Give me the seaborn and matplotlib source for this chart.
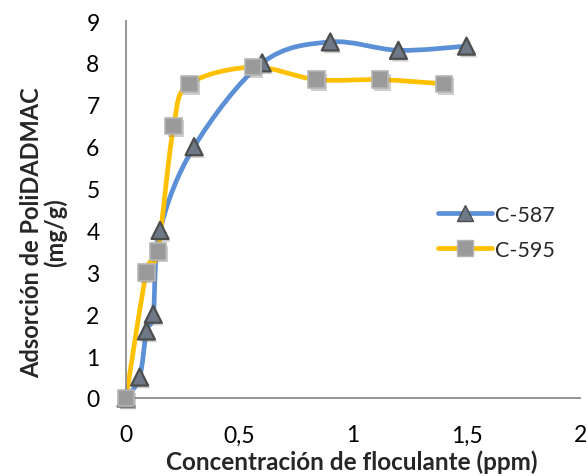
import matplotlib
matplotlib.use("Agg")
import matplotlib.pyplot as plt
import matplotlib.patheffects as pe
from matplotlib.path import Path
from matplotlib.patches import PathPatch
from matplotlib.lines import Line2D
import numpy as np
import pandas as pd
import seaborn as sns

# data
conc_587 = [0, 0.06, 0.09, 0.12, 0.15, 0.3, 0.6, 0.9, 1.2, 1.5]
ads_587 = [0, 0.5, 1.6, 2.0, 4.0, 6.0, 8.0, 8.5, 8.3, 8.4]
conc_595 = [0, 0.09, 0.14, 0.21, 0.28, 0.56, 0.84, 1.12, 1.4]
ads_595 = [0, 3.0, 3.5, 6.5, 7.5, 7.9, 7.6, 7.6, 7.5]
series_names = ["C-587", "C-595"]
x_ticks = [0, 0.5, 1, 1.5, 2]
x_tick_labels = ["0", "0,5", "1", "1,5", "2"]
y_ticks = list(range(10))

BLUE = "#5B8FD6"
YELLOW = "#FFC000"
AXIS_GREY = "#8C8C8C"

sns.set_theme(style="white")
plt.rcParams["font.family"] = ["Lato", "DejaVu Sans"]


def smooth_path(x, y):
    """Excel-like smoothed line: cubic Bezier segments through the points"""
    pts = np.column_stack([x, y]).astype(float)
    n = len(pts)
    verts = [pts[0]]
    codes = [Path.MOVETO]
    for i in range(n - 1):
        p0 = pts[i - 1] if i > 0 else pts[i]
        p1 = pts[i]
        p2 = pts[i + 1]
        p3 = pts[i + 2] if i + 2 < n else pts[i + 1]
        verts += [p1 + (p2 - p0) / 6, p2 - (p3 - p1) / 6, p2]
        codes += [Path.CURVE4] * 3
    return Path(verts, codes)


df_587 = pd.DataFrame({"conc": conc_587, "ads": ads_587, "serie": series_names[0]})
df_595 = pd.DataFrame({"conc": conc_595, "ads": ads_595, "serie": series_names[1]})

fig = plt.figure(figsize=(5.87, 4.77), dpi=100)
ax = fig.add_axes([126 / 587, 78 / 477, 454 / 587, 377 / 477])

for df, color in [(df_587, BLUE), (df_595, YELLOW)]:
    ax.add_patch(PathPatch(smooth_path(df["conc"], df["ads"]), fill=False,
                           edgecolor=color, lw=3.4, capstyle="round",
                           joinstyle="round", zorder=2))

shadow = [pe.SimplePatchShadow(offset=(1.5, -2), alpha=0.35, shadow_rgbFace="#777777"),
          pe.Normal()]
sns.scatterplot(data=df_587, x="conc", y="ads", marker="^", s=150,
                color="#6E7886", edgecolor="#4D4D4D", linewidth=1.6,
                legend=False, ax=ax, zorder=3, clip_on=False)
sns.scatterplot(data=df_595, x="conc", y="ads", marker="s", s=140,
                color="#9A9A9A", edgecolor="#B5B5B5", linewidth=1.2,
                legend=False, ax=ax, zorder=4, clip_on=False)
for coll in ax.collections:
    coll.set_path_effects(shadow)

ax.set_xlim(0, 2)
ax.set_ylim(0, 9)
ax.set_xticks(x_ticks)
ax.set_xticklabels(x_tick_labels)
ax.set_yticks(y_ticks)
ax.tick_params(axis="both", length=0, labelsize=16.5, colors="black")
ax.tick_params(axis="x", pad=19)
ax.tick_params(axis="y", pad=19)

for side in ["top", "right"]:
    ax.spines[side].set_visible(False)
for side in ["left", "bottom"]:
    ax.spines[side].set_color(AXIS_GREY)
    ax.spines[side].set_linewidth(1.3)

ax.set_xlabel("Concentración de floculante (ppm)", fontsize=17.5,
              fontweight="bold", va="center")
ax.xaxis.set_label_coords(0.498, -0.168)
ax.set_ylabel("Adsorción de PoliDADMAC\n(mg/g)", fontsize=17,
              fontweight="bold", va="center", linespacing=1.0)
ax.yaxis.set_label_coords(-0.181, 0.44)

handles = [
    Line2D([], [], color=BLUE, lw=3.4, marker="^", markersize=12,
           markerfacecolor="#6E7886", markeredgecolor="#4D4D4D"),
    Line2D([], [], color=YELLOW, lw=3.4, marker="s", markersize=11,
           markerfacecolor="#9A9A9A", markeredgecolor="#B5B5B5"),
]
ax.legend(handles, series_names, loc="center left", bbox_to_anchor=(0.645, 0.44),
          frameon=False, fontsize=15.5, handlelength=2.5, handletextpad=0.15,
          labelspacing=0.7)

fig.savefig("out.png", dpi=100)
